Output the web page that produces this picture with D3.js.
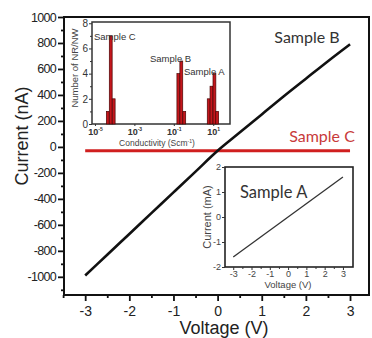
<!DOCTYPE html>
<html><head><meta charset="utf-8">
<script src="https://cdn.jsdelivr.net/npm/d3@7"></script>
<style>body{margin:0;background:#fff}svg{display:block}</style>
</head><body>
<svg id="c" width="372" height="338"></svg>
<script>
// ---- data ----
const voltageB = [-3, -2.5, -2, -1.5, -1, -0.5, 0, 0.5, 1, 1.5, 2, 2.5, 3];
const currentB = [-990, -830, -670, -510, -350, -190, -30, 110, 250, 390, 525, 660, 790];
const voltageC = [-3, 3];
const currentC = [-30, -30];
const voltageA = [-3, 3];
const currentA = [-1.6, 1.6];
const mainXTicks = [-3, -2, -1, 0, 1, 2, 3];
const mainYTicks = [-1000, -800, -600, -400, -200, 0, 200, 400, 600, 800, 1000];
// histogram: log10 conductivity (bin centres) and counts
const histExpC = [-4.35, -4.2, -4.05];
const histCountC = [1, 7, 2];
const histExpB = [-0.77, -0.62, -0.47];
const histCountB = [4, 5, 1];
const histExpA = [0.77, 0.91, 1.06, 1.2];
const histCountA = [2, 3, 4, 1];
const histXTicks = [-5, -3, -1, 1];
const histYTicks = [0, 2, 4, 6, 8];
const insetATicksX = [-3, -2, -1, 0, 1, 2, 3];
const insetATicksY = [-2, -1, 0, 1, 2];

const svg = d3.select("#c");
const F = "'Liberation Sans', Arial, sans-serif";
const FC = "Lato, 'Open Sans', sans-serif";
const fmt = d => String(d);

// ---- main chart ----
const x = d3.scaleLinear().domain([-3.48, 3.43]).range([64, 369]);
const y = d3.scaleLinear().domain([-1140, 1000]).range([295, 17]);

const xMinor = d3.range(-3.5, 3.5, 0.5).filter(v => !Number.isInteger(v));
const yMinor = d3.range(-1100, 1000, 100).filter(v => v % 200 !== 0);

const gx = svg.append("g").attr("transform", "translate(0,295)");
gx.call(d3.axisBottom(x).tickValues(mainXTicks).tickSize(6).tickPadding(5).tickFormat(fmt));
gx.append("g").call(d3.axisBottom(x).tickValues(xMinor).tickSize(3).tickFormat(""));
gx.selectAll("text").attr("font-family", F).attr("font-size", 14).attr("fill", "#222");
gx.selectAll(".domain").remove();
gx.selectAll("line").attr("stroke", "#111").attr("stroke-width", 1.8);

const gy = svg.append("g").attr("transform", "translate(64,0)");
gy.call(d3.axisLeft(y).tickValues(mainYTicks).tickSize(6).tickPadding(2).tickFormat(fmt));
gy.append("g").call(d3.axisLeft(y).tickValues(yMinor).tickSize(3).tickFormat(""));
gy.selectAll("text").attr("font-family", F).attr("font-size", 12.5).attr("fill", "#222").attr("letter-spacing", "-0.7px");
gy.selectAll(".domain").remove();
gy.selectAll("line").attr("stroke", "#111").attr("stroke-width", 1.8);

svg.append("rect").attr("x", x.range()[0]).attr("y", y.range()[1])
  .attr("width", x.range()[1] - x.range()[0]).attr("height", y.range()[0] - y.range()[1])
  .attr("fill", "none").attr("stroke", "#111").attr("stroke-width", 2);

// Sample C line
svg.append("path").datum(voltageC.map((v, i) => [v, currentC[i]]))
  .attr("d", d3.line().x(d => x(d[0])).y(d => y(d[1])))
  .attr("stroke", "#d01f1f").attr("stroke-width", 3).attr("fill", "none");
// Sample B line
svg.append("path").datum(voltageB.map((v, i) => [v, currentB[i]]))
  .attr("d", d3.line().x(d => x(d[0])).y(d => y(d[1])).curve(d3.curveMonotoneX))
  .attr("stroke", "#111").attr("stroke-width", 2.6).attr("fill", "none");

svg.append("text").attr("x", 307).attr("y", 43).attr("text-anchor", "middle")
  .attr("font-family", FC).attr("font-size", 16).attr("fill", "#333").text("Sample B");
svg.append("text").attr("x", 322).attr("y", 142).attr("text-anchor", "middle")
  .attr("font-family", FC).attr("font-size", 16).attr("fill", "#c83a3a").text("Sample C");

svg.append("text").attr("x", 224).attr("y", 334).attr("text-anchor", "middle")
  .attr("font-family", F).attr("font-size", 18).attr("fill", "#222").text("Voltage (V)");
svg.append("text").attr("transform", "translate(28,136) rotate(-90)").attr("text-anchor", "middle")
  .attr("font-family", F).attr("font-size", 18).attr("fill", "#222").text("Current (nA)");

// ---- inset 1: histogram ----
const hx = d3.scaleLinear().domain([-5.15, 1.85]).range([92, 230]);
const hy = d3.scaleLinear().domain([0, 8.1]).range([124, 22]);
const binW = 0.145;
svg.append("rect").attr("x", 92).attr("y", 22).attr("width", 138).attr("height", 102)
  .attr("fill", "#fff").attr("stroke", "#333").attr("stroke-width", 1.5);
const bars = [].concat(
  histExpC.map((e, i) => [e, histCountC[i]]),
  histExpB.map((e, i) => [e, histCountB[i]]),
  histExpA.map((e, i) => [e, histCountA[i]]));
svg.append("g").selectAll("rect").data(bars).join("rect")
  .attr("x", d => hx(d[0] - binW / 2)).attr("width", d => hx(d[0] + binW / 2) - hx(d[0] - binW / 2))
  .attr("y", d => hy(d[1])).attr("height", d => hy(0) - hy(d[1]))
  .attr("fill", "#c4161c").attr("stroke", "#4a0505").attr("stroke-width", 0.7);

const hgx = svg.append("g").attr("transform", "translate(0,124)");
hgx.call(d3.axisBottom(hx).tickValues(histXTicks).tickSize(2).tickPadding(1).tickFormat(""));
hgx.selectAll(".domain").remove();
hgx.selectAll("line").attr("stroke", "#333");
hgx.selectAll(".tick").append("text").attr("y", 10.5).attr("text-anchor", "middle")
  .attr("font-family", F).attr("font-size", 9).attr("font-weight", "bold").attr("fill", "#333")
  .each(function (d) {
    const t = d3.select(this);
    t.append("tspan").text("10");
    t.append("tspan").attr("dy", -4).attr("font-size", 5).text(d);
  });
svg.append("text").attr("x", 157).attr("y", 145.5).attr("text-anchor", "middle")
  .attr("font-family", F).attr("font-size", 8.5).attr("fill", "#444")
  .call(t => { t.append("tspan").text("Conductivity (Scm"); t.append("tspan").attr("dy", -3).attr("font-size", 5).text("-1"); t.append("tspan").attr("dy", 3).text(")"); });

const hgy = svg.append("g").attr("transform", "translate(92,0)");
hgy.call(d3.axisLeft(hy).tickValues(histYTicks).tickSize(3).tickPadding(1).tickFormat(fmt));
hgy.append("g").call(d3.axisLeft(hy).tickValues([1, 3, 5, 7]).tickSize(2).tickFormat(""));
hgy.selectAll(".domain").remove();
hgy.selectAll("line").attr("stroke", "#333");
hgy.selectAll("text").attr("font-family", F).attr("font-size", 10).attr("fill", "#333");
svg.append("text").attr("transform", "translate(78,68) rotate(-90)").attr("text-anchor", "middle")
  .attr("font-family", F).attr("font-size", 9.5).attr("fill", "#444").text("Number of NR/NW");

const hl = [["Sample C", 94, 40], ["Sample B", 150, 62], ["Sample A", 184, 75]];
svg.append("g").selectAll("text").data(hl).join("text")
  .attr("x", d => d[1]).attr("y", d => d[2]).attr("font-family", F).attr("font-size", 9.5)
  .attr("fill", "#333").text(d => d[0]);

// ---- inset 2: Sample A I-V ----
const ax = d3.scaleLinear().domain([-3.45, 3.55]).range([225, 353]);
const ay = d3.scaleLinear().domain([-2, 2]).range([267, 167]);
svg.append("rect").attr("x", 225).attr("y", 167).attr("width", 128).attr("height", 100)
  .attr("fill", "#fff").attr("stroke", "#222").attr("stroke-width", 1.6);
svg.append("path").datum(voltageA.map((v, i) => [v, currentA[i]]))
  .attr("d", d3.line().x(d => ax(d[0])).y(d => ay(d[1])))
  .attr("stroke", "#333").attr("stroke-width", 1.3).attr("fill", "none");
const agx = svg.append("g").attr("transform", "translate(0,267)");
agx.call(d3.axisBottom(ax).tickValues(insetATicksX).tickSize(3).tickPadding(1).tickFormat(fmt));
agx.append("g").call(d3.axisBottom(ax).tickValues(d3.range(-2.5, 3, 1)).tickSize(2).tickFormat(""));
agx.selectAll(".domain").remove();
agx.selectAll("line").attr("stroke", "#333");
agx.selectAll("text").attr("font-family", F).attr("font-size", 9).attr("fill", "#444");
const agy = svg.append("g").attr("transform", "translate(225,0)");
agy.call(d3.axisLeft(ay).tickValues(insetATicksY).tickSize(3).tickPadding(1).tickFormat(fmt));
agy.selectAll(".domain").remove();
agy.selectAll("line").attr("stroke", "#333");
agy.selectAll("text").attr("font-family", F).attr("font-size", 9).attr("fill", "#444");
svg.append("text").attr("x", 288).attr("y", 288).attr("text-anchor", "middle")
  .attr("font-family", F).attr("font-size", 9.5).attr("fill", "#444").text("Voltage (V)");
svg.append("text").attr("transform", "translate(211,217) rotate(-90)").attr("text-anchor", "middle")
  .attr("font-family", F).attr("font-size", 11).attr("fill", "#444").text("Current (mA)");
svg.append("text").attr("x", 240).attr("y", 198)
  .attr("font-family", FC).attr("font-size", 16.5).attr("fill", "#333").text("Sample A");
</script>
</body></html>
